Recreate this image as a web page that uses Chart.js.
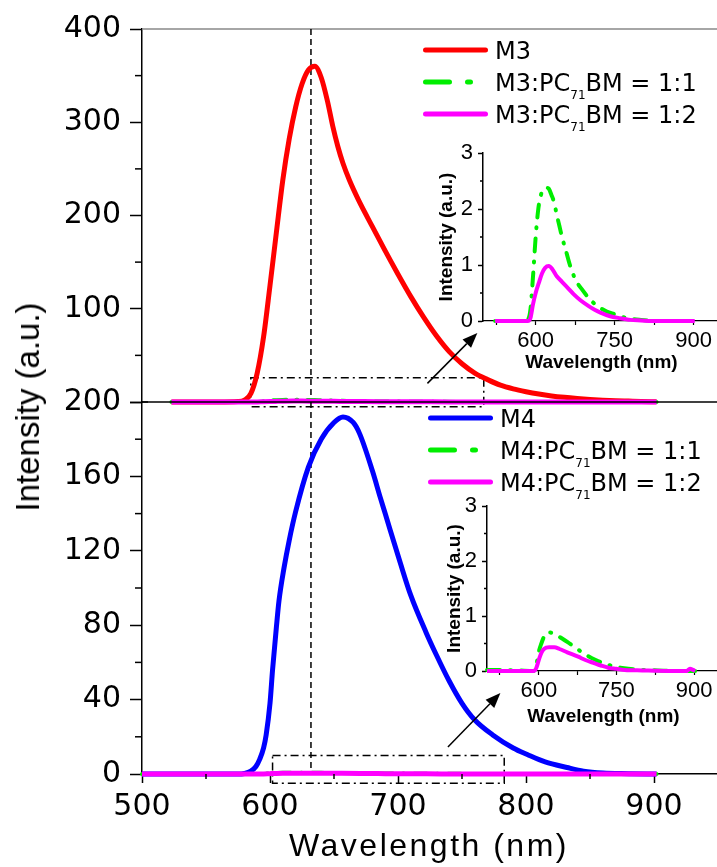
<!DOCTYPE html>
<html>
<head>
<meta charset="utf-8">
<script src="https://cdn.jsdelivr.net/npm/chart.js@4.4.0/dist/chart.umd.min.js"></script>
<style>
  body { margin: 0; background: #fff; width: 717px; height: 867px; overflow: hidden; position: relative;
         font-family: "Liberation Sans", Arial, sans-serif; }
  canvas { position: absolute; }
  #xtitle { position: absolute; left: 429px; top: 828px; transform: translateX(-50%); font-size: 32px;
            line-height: 34px; letter-spacing: 2.5px; white-space: nowrap; }
  #ytitle { position: absolute; left: 28px; top: 407px; transform: translate(-50%, -50%) rotate(-90deg);
            font-size: 33px; line-height: 34px; white-space: nowrap; }
</style>
</head>
<body>
<canvas id="cTop" width="718" height="436" style="left:0;top:0"></canvas>
<canvas id="cBot" width="718" height="499" style="left:0;top:368px"></canvas>
<canvas id="iTop" width="300" height="250" style="left:420px;top:130px"></canvas>
<canvas id="iBot" width="300" height="250" style="left:420px;top:483px"></canvas>
<div id="ytitle">Intensity (a.u.)</div>
<div id="xtitle">Wavelength (nm)</div>
<script>
// ---- data ----
const m3Wl  = [523,560,575,580,585,590,595,600,605,610,615,620,625,630,635,640,645,649,653,657,662,669,680,690,700,710,720,730,740,750,760,770,780,790,800,810,820,830,840,850,860,870,880,890,902];
const m3Val = [0,0,0.5,2,9,31,70,125,182,238,282,316,341,356,360,348,322,296,274,256,238,217,188,162,137,113,91,71,54,41,31,24,18,14,11,8.5,6.5,5,3.8,2.8,2,1.4,1,0.6,0.3];

const m3b1Wl  = [523,580,585,590,595,600,605,610,615,620,625,630,635,640,645,650,657,665,675,689,700,708,720,735,750,765,780,800,830,902];
const m3b1Val = [0,0,0.02,0.2,0.8,1.5,2.0,2.25,2.35,2.38,2.36,2.25,2.12,1.9,1.7,1.5,1.27,1.0,0.75,0.55,0.42,0.34,0.25,0.17,0.12,0.07,0.04,0.02,0,0];

const m3b2Wl  = [523,585,590,595,600,606,612,618,625,632,640,650,660,672,685,700,712,723,740,760,780,800,820,902];
const m3b2Val = [0,0,0.05,0.3,0.5,0.68,0.85,0.95,0.98,0.92,0.8,0.7,0.6,0.48,0.37,0.27,0.2,0.15,0.09,0.05,0.02,0.01,0,0];

const m4Wl  = [500,575,580,585,589,592,595,597,600,602,605,607,611,615,620,630,640,650,657,665,670,680,686,690,702,710,722,730,740,750,760,774,790,801,815,832,845,860,880,902];
const m4Val = [0,0,0.3,1.5,4,8,14,21,38,56,79,93,111,125.6,141,165,180,189,192,189,183,163,149,140,113,96,76,64,50,38,29,21,14,10.5,6.5,3.5,1.5,0.5,0.2,0];

const m4b1Wl  = [500,560,590,595,600,605,610,615,620,630,640,655,670,690,710,735,765,800,830,860,902];
const m4b1Val = [0.02,0.01,0,0.1,0.35,0.5,0.62,0.69,0.7,0.68,0.62,0.53,0.43,0.3,0.2,0.11,0.05,0.02,0.01,0,0];

const m4b2Wl  = [500,590,595,600,605,610,620,630,640,655,676,690,708,720,734,750,766,800,850,885,892,898,902];
const m4b2Val = [0,0,0.05,0.2,0.33,0.4,0.43,0.43,0.4,0.34,0.26,0.2,0.14,0.1,0.06,0.04,0.02,0.01,0,0,0.04,0.02,0];

const topTicks = [0,100,200,300,400];
const topMinor = [50,150,250,350];
const botTicks = [0,40,80,120,160,200];
const botMinor = [20,60,100,140,180];
const xTicks = [500,600,700,800,900];
const xMinor = [550,650,750,850,950];
const inTicksY = [0,1,2,3];
const inMinorY = [0.5,1.5,2.5];
const inTicksX = [525,600,675,750,825,900];
const inLabelsX = [600,750,900];

const legendTop = [['M3'], ['M3:PC','71','BM = 1:1'], ['M3:PC','71','BM = 1:2']];
const legendBot = [['M4'], ['M4:PC','71','BM = 1:1'], ['M4:PC','71','BM = 1:2']];

const markWl = 632;   // dashed guide line

// ---- helpers ----
const FONT = '"Liberation Sans", Arial, sans-serif';
const WIDE = '"DejaVu Sans", sans-serif';
Chart.defaults.font.family = FONT;
Chart.defaults.color = '#000';
const RED = '#ff0000', GREEN = '#00ee00', PINK = '#ff00ff', BLUE = '#0000ff';
const DOTDASH = [13,10,1,10];

function pts(xs, ys) { return xs.map((x, i) => ({x: x, y: ys[i]})); }
function ds(xs, ys, color, w, dash) {
    return { data: pts(xs, ys), borderColor: color, borderWidth: w, borderDash: dash || [],
             borderCapStyle: dash ? 'round' : 'butt', borderJoinStyle: 'round', pointRadius: 0,
             cubicInterpolationMode: 'monotone', fill: false, clip: 10 };
}
function fixedTicks(list) { return s => { s.ticks = list.map(v => ({value: v})); }; }

function hLine(ctx, x1, x2, y, color, w, dash) {
    ctx.save(); ctx.strokeStyle = color; ctx.lineWidth = w; ctx.setLineDash(dash || []);
    ctx.beginPath(); ctx.moveTo(x1, y); ctx.lineTo(x2, y); ctx.stroke(); ctx.restore();
}
function vLine(ctx, x, y1, y2, color, w, dash) {
    ctx.save(); ctx.strokeStyle = color; ctx.lineWidth = w; ctx.setLineDash(dash || []);
    ctx.beginPath(); ctx.moveTo(x, y1); ctx.lineTo(x, y2); ctx.stroke(); ctx.restore();
}
function boxDash(chart, x1, y1, x2, y2) {
    const sx = chart.scales.x, sy = chart.scales.y, ctx = chart.ctx;
    ctx.save(); ctx.strokeStyle = '#000'; ctx.lineWidth = 1.5; ctx.setLineDash([8,4,2,4]);
    ctx.strokeRect(sx.getPixelForValue(x1), sy.getPixelForValue(y2),
                   sx.getPixelForValue(x2) - sx.getPixelForValue(x1),
                   sy.getPixelForValue(y1) - sy.getPixelForValue(y2));
    ctx.restore();
}
function arrow(chart, wx1, v1, wx2, v2) {
    const sx = chart.scales.x, sy = chart.scales.y, ctx = chart.ctx;
    const x1 = sx.getPixelForValue(wx1), y1 = sy.getPixelForValue(v1);
    const x2 = sx.getPixelForValue(wx2), y2 = sy.getPixelForValue(v2);
    const a = Math.atan2(y2 - y1, x2 - x1), L = 15, W = 6;
    ctx.save(); ctx.strokeStyle = '#000'; ctx.fillStyle = '#000'; ctx.lineWidth = 1.5;
    ctx.beginPath(); ctx.moveTo(x1, y1); ctx.lineTo(x2 - L * Math.cos(a), y2 - L * Math.sin(a)); ctx.stroke();
    ctx.beginPath(); ctx.moveTo(x2, y2);
    ctx.lineTo(x2 - L * Math.cos(a) + W * Math.sin(a), y2 - L * Math.sin(a) - W * Math.cos(a));
    ctx.lineTo(x2 - L * Math.cos(a) - W * Math.sin(a), y2 - L * Math.sin(a) + W * Math.cos(a));
    ctx.closePath(); ctx.fill(); ctx.restore();
}
function legend(ctx, x0, y0, colors, dashes, rows) {
    ctx.save();
    for (let i = 0; i < rows.length; i++) {
        const y = y0 + i * 32;
        ctx.strokeStyle = colors[i]; ctx.lineWidth = 5; ctx.lineCap = 'round';
        ctx.setLineDash(dashes[i] ? [24,18,3,40] : []);
        ctx.beginPath(); ctx.moveTo(x0 + 2.5, y); ctx.lineTo(x0 + (dashes[i] ? 47.5 : 62.5), y); ctx.stroke();
        ctx.setLineDash([]);
        ctx.fillStyle = '#000'; ctx.textBaseline = 'alphabetic'; ctx.textAlign = 'left';
        let tx = x0 + 72;
        const parts = rows[i];
        for (let j = 0; j < parts.length; j++) {
            if (j === 1) {
                ctx.font = '12px ' + WIDE; ctx.fillText(parts[j], tx, y + 17);
            } else {
                ctx.font = '24px ' + WIDE; ctx.fillText(parts[j], tx, y + 9);
            }
            tx += ctx.measureText(parts[j]).width;
        }
    }
    ctx.restore();
}
function yMinorTicks(chart, list, len) {
    const a = chart.chartArea, sy = chart.scales.y;
    list.forEach(v => hLine(chart.ctx, a.left - len, a.left, sy.getPixelForValue(v), '#000', 1.5));
}
function xMinorTicks(chart, list, len) {
    const a = chart.chartArea, sx = chart.scales.x;
    list.forEach(v => vLine(chart.ctx, sx.getPixelForValue(v), a.bottom, a.bottom + len, '#000', 1.5));
}

function yScale(max, ticks, font, tl, pad, width, hideZero) {
    return { type: 'linear', min: 0, max: max, afterFit: s => { s.width = width; },
             afterBuildTicks: fixedTicks(ticks),
             ticks: { font: font, color: '#000', padding: pad,
                      callback: v => (hideZero && v === 0) ? '' : v },
             grid: { drawOnChartArea: false, tickLength: tl, color: '#000', tickWidth: 1.5 },
             border: { color: '#000', width: 1.5 } };
}
const mainTickFont = { family: WIDE, size: 30 };
const insetTickFont = { family: FONT, size: 22 };
const baseOpts = { responsive: false, animation: false, events: [],
                   plugins: { legend: { display: false }, tooltip: { enabled: false } } };

// ---- top main panel (M3) ----
new Chart(document.getElementById('cTop'), {
    type: 'line',
    data: { datasets: [ ds(m3b2Wl, m3b2Val, PINK, 5), ds(m3b1Wl, m3b1Val, GREEN, 4, DOTDASH), ds(m3Wl, m3Val, RED, 5) ] },
    options: Object.assign({}, baseOpts, {
        layout: { padding: { top: 29, bottom: 34, left: 0, right: 0 } },
        scales: {
            x: { type: 'linear', min: 500, max: 950, display: false },
            y: yScale(400, topTicks, mainTickFont, 12, 9, 142, true)
        }
    }),
    plugins: [{
        id: 'topDeco',
        beforeDatasetsDraw(chart) {
            const a = chart.chartArea, ctx = chart.ctx;
            hLine(ctx, a.left, a.right, a.top, '#888', 1.5);
            vLine(ctx, chart.scales.x.getPixelForValue(markWl), a.top, a.bottom, '#000', 1.5, [6,4]);
            boxDash(chart, 585, -5, 767, 26);
        },
        afterDraw(chart) {
            yMinorTicks(chart, topMinor, 7);
            arrow(chart, 723, 20, 762, 74);
            legend(chart.ctx, 423, 50, [RED, GREEN, PINK], [false, true, false], legendTop);
        }
    }]
});

// ---- bottom main panel (M4) ----
new Chart(document.getElementById('cBot'), {
    type: 'line',
    data: { datasets: [ ds(m4b2Wl, m4b2Val, PINK, 5), ds(m4b1Wl, m4b1Val, GREEN, 4, DOTDASH), ds(m4Wl, m4Val, BLUE, 5) ] },
    options: Object.assign({}, baseOpts, {
        layout: { padding: { top: 34, bottom: 0, left: 0, right: 0 } },
        scales: {
            x: { type: 'linear', min: 500, max: 950, afterFit: s => { s.height = 93; },
                 afterBuildTicks: fixedTicks(xTicks),
                 ticks: { font: mainTickFont, color: '#000', padding: 6, maxRotation: 0 },
                 grid: { drawOnChartArea: false, tickLength: 9, color: '#000', tickWidth: 1.5 },
                 border: { color: '#000', width: 1.5 } },
            y: yScale(200, botTicks, mainTickFont, 12, 9, 142, false)
        }
    }),
    plugins: [{
        id: 'botDeco',
        beforeDatasetsDraw(chart) {
            const a = chart.chartArea, ctx = chart.ctx;
            hLine(ctx, a.left, a.right, a.top, '#000', 1.5);
            hLine(ctx, a.left, a.left + 6, a.top, '#000', 1.5);
            vLine(ctx, chart.scales.x.getPixelForValue(markWl), a.top, a.bottom, '#000', 1.5, [6,4]);
            boxDash(chart, 602, -5, 783, 10);
        },
        afterDraw(chart) {
            yMinorTicks(chart, botMinor, 7);
            xMinorTicks(chart, xMinor, 5);
            arrow(chart, 739, 14.5, 780, 43.5);
            legend(chart.ctx, 428, 50, [BLUE, GREEN, PINK], [false, true, false], legendBot);
        }
    }]
});

// ---- insets ----
function inset(id, s1w, s1v, s2w, s2v, axisH, geo) {
    new Chart(document.getElementById(id), {
        type: 'line',
        data: { datasets: [ ds(s2w, s2v, PINK, 4), ds(s1w, s1v, GREEN, 4, DOTDASH) ] },
        options: Object.assign({}, baseOpts, {
            layout: { padding: { top: 23, bottom: 0, left: 0, right: 0 } },
            scales: {
                x: { type: 'linear', min: 500, max: 950, afterFit: s => { s.height = axisH; },
                     afterBuildTicks: fixedTicks(inTicksX),
                     ticks: { font: insetTickFont, color: '#000', padding: 3, maxRotation: 0,
                              callback: v => inLabelsX.includes(v) ? v : '' },
                     grid: { drawOnChartArea: false, tickLength: 4, color: '#000', tickWidth: 1.2 },
                     border: { color: '#000', width: 1.2 } },
                y: yScale(3, inTicksY, insetTickFont, 5, 5, geo.w, false)
            }
        }),
        plugins: [{
            id: id + 'Deco',
            afterDraw(chart) {
                const a = chart.chartArea, ctx = chart.ctx;
                yMinorTicks(chart, inMinorY, 3);
                ctx.save();
                ctx.fillStyle = '#000'; ctx.font = 'bold 19px ' + FONT;
                ctx.textAlign = 'center'; ctx.textBaseline = 'middle';
                ctx.fillText('Wavelength (nm)', (a.left + a.right) / 2, a.bottom + geo.xt);
                ctx.translate(a.left - geo.dx, (a.top + a.bottom) / 2);
                ctx.rotate(-Math.PI / 2);
                ctx.fillText('Intensity (a.u.)', 0, 0);
                ctx.restore();
            }
        }]
    });
}
inset('iTop', m3b1Wl, m3b1Val, m3b2Wl, m3b2Val, 59, { w: 63, dx: 36, xt: 42 });
inset('iBot', m4b1Wl, m4b1Val, m4b2Wl, m4b2Val, 62, { w: 67, dx: 32, xt: 46 });
</script>
</body>
</html>
